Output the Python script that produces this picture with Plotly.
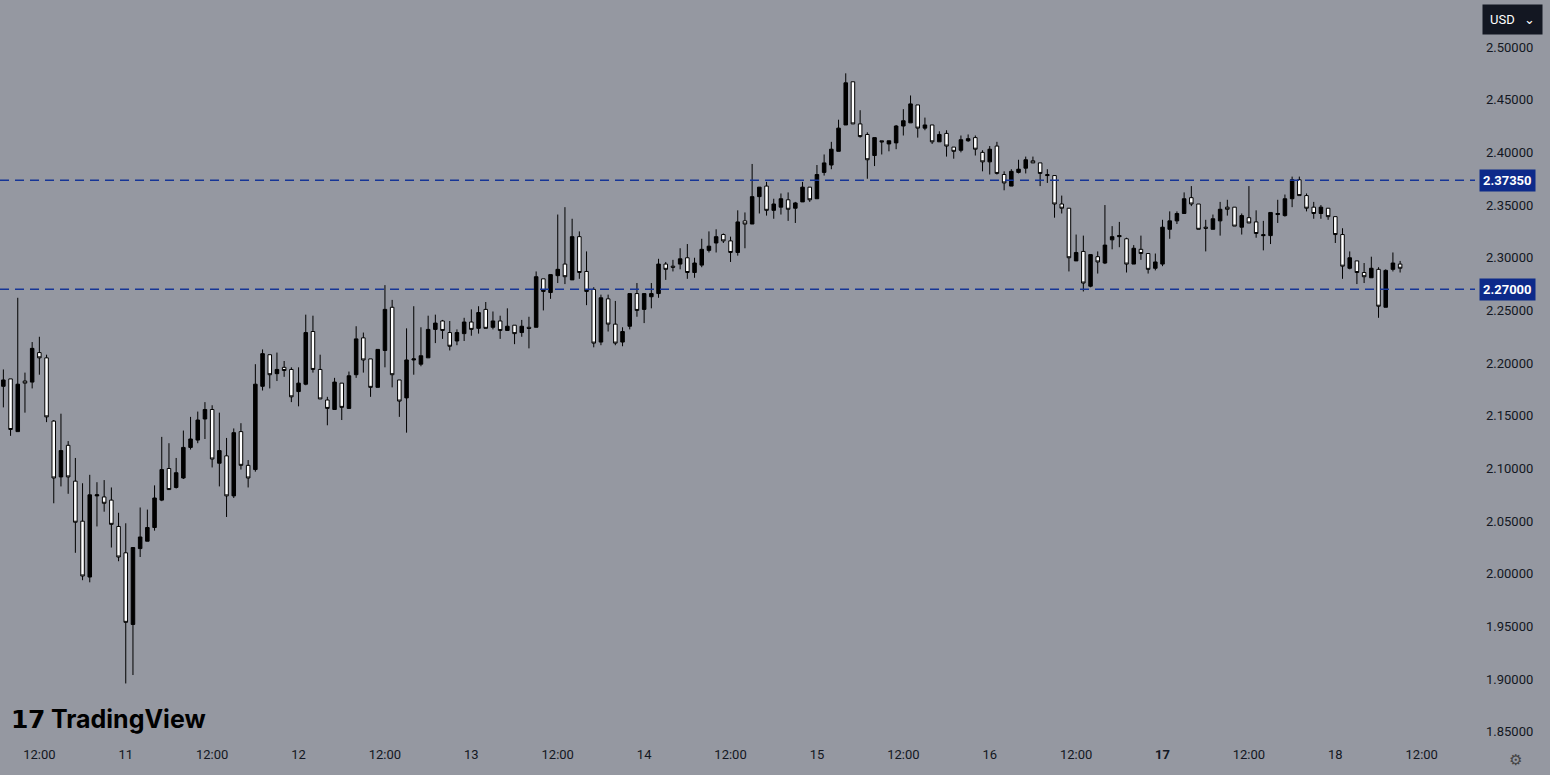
import pandas as pd
import plotly.graph_objects as go

# hourly candles, 10th 07:00 -> 18th 09:00
opens = [
    2.178, 2.185, 2.135, 2.183, 2.182, 2.210, 2.205, 2.145, 2.092, 2.122,
    2.088, 2.050, 1.997, 2.074, 2.073, 2.070, 2.045, 2.020, 1.952, 2.024,
    2.031, 2.044, 2.070, 2.100, 2.082, 2.091, 2.120, 2.127, 2.147, 2.156,
    2.105, 2.112, 2.074, 2.135, 2.103, 2.099, 2.178, 2.208, 2.190, 2.196,
    2.194, 2.173, 2.180, 2.230, 2.194, 2.165, 2.156, 2.181, 2.157, 2.189,
    2.224, 2.204, 2.177, 2.212, 2.253, 2.184, 2.167, 2.203, 2.199, 2.205,
    2.232, 2.240, 2.229, 2.221, 2.228, 2.239, 2.233, 2.251, 2.234, 2.240,
    2.231, 2.236, 2.229, 2.234, 2.234, 2.280, 2.267, 2.283, 2.294, 2.279,
    2.320, 2.287, 2.270, 2.220, 2.261, 2.237, 2.220, 2.235, 2.266, 2.251,
    2.263, 2.266, 2.294, 2.292, 2.294, 2.300, 2.286, 2.293, 2.307, 2.314,
    2.322, 2.316, 2.305, 2.335, 2.332, 2.358, 2.368, 2.345, 2.348, 2.355,
    2.347, 2.353, 2.367, 2.356, 2.381, 2.388, 2.401, 2.426, 2.467, 2.427,
    2.417, 2.397, 2.411, 2.408, 2.409, 2.425, 2.428, 2.445, 2.423, 2.426,
    2.410, 2.418, 2.405, 2.402, 2.411, 2.414, 2.400, 2.391, 2.406, 2.379,
    2.368, 2.381, 2.385, 2.392, 2.390, 2.379, 2.378, 2.351, 2.347, 2.297,
    2.306, 2.273, 2.301, 2.295, 2.317, 2.320, 2.318, 2.294, 2.308, 2.304,
    2.290, 2.294, 2.327, 2.335, 2.342, 2.357, 2.351, 2.329, 2.327, 2.335,
    2.348, 2.348, 2.329, 2.338, 2.334, 2.322, 2.321, 2.341, 2.340, 2.356,
    2.374, 2.359, 2.348, 2.342, 2.347, 2.339, 2.322, 2.290, 2.297, 2.286,
    2.281, 2.289, 2.253, 2.289, 2.294,
]
highs = [
    2.194, 2.185, 2.262, 2.191, 2.220, 2.225, 2.208, 2.146, 2.152, 2.126,
    2.110, 2.086, 2.094, 2.087, 2.089, 2.082, 2.058, 2.048, 2.025, 2.063,
    2.061, 2.084, 2.130, 2.124, 2.110, 2.136, 2.149, 2.154, 2.163, 2.160,
    2.153, 2.129, 2.138, 2.143, 2.108, 2.199, 2.213, 2.208, 2.210, 2.202,
    2.196, 2.196, 2.246, 2.245, 2.208, 2.168, 2.186, 2.181, 2.192, 2.235,
    2.229, 2.204, 2.213, 2.274, 2.260, 2.184, 2.233, 2.254, 2.234, 2.245,
    2.246, 2.241, 2.240, 2.232, 2.243, 2.251, 2.254, 2.258, 2.249, 2.245,
    2.252, 2.236, 2.241, 2.244, 2.287, 2.280, 2.284, 2.341, 2.348, 2.337,
    2.325, 2.306, 2.272, 2.265, 2.265, 2.259, 2.234, 2.266, 2.276, 2.266,
    2.276, 2.299, 2.296, 2.298, 2.309, 2.313, 2.300, 2.318, 2.325, 2.327,
    2.323, 2.320, 2.345, 2.343, 2.389, 2.367, 2.372, 2.356, 2.361, 2.362,
    2.353, 2.372, 2.367, 2.388, 2.398, 2.410, 2.431, 2.475, 2.467, 2.440,
    2.419, 2.414, 2.411, 2.411, 2.426, 2.441, 2.454, 2.445, 2.433, 2.426,
    2.420, 2.421, 2.405, 2.416, 2.417, 2.416, 2.402, 2.406, 2.410, 2.382,
    2.384, 2.393, 2.396, 2.396, 2.390, 2.384, 2.378, 2.359, 2.347, 2.322,
    2.321, 2.303, 2.306, 2.350, 2.330, 2.334, 2.319, 2.312, 2.321, 2.304,
    2.304, 2.336, 2.344, 2.344, 2.362, 2.368, 2.351, 2.336, 2.341, 2.353,
    2.355, 2.348, 2.342, 2.368, 2.345, 2.335, 2.343, 2.355, 2.360, 2.377,
    2.377, 2.361, 2.353, 2.350, 2.347, 2.339, 2.328, 2.306, 2.297, 2.295,
    2.301, 2.291, 2.289, 2.305, 2.297,
]
lows = [
    2.158, 2.131, 2.135, 2.153, 2.176, 2.189, 2.144, 2.067, 2.083, 2.076,
    2.020, 1.994, 1.992, 2.045, 2.059, 2.025, 2.012, 1.896, 1.904, 2.016,
    2.031, 2.041, 2.069, 2.080, 2.081, 2.090, 2.118, 2.124, 2.128, 2.101,
    2.083, 2.054, 2.072, 2.099, 2.082, 2.097, 2.174, 2.176, 2.183, 2.187,
    2.163, 2.159, 2.179, 2.191, 2.166, 2.141, 2.156, 2.146, 2.157, 2.186,
    2.191, 2.168, 2.177, 2.196, 2.177, 2.149, 2.134, 2.189, 2.197, 2.205,
    2.219, 2.223, 2.212, 2.217, 2.221, 2.226, 2.228, 2.233, 2.232, 2.223,
    2.231, 2.218, 2.225, 2.214, 2.234, 2.250, 2.261, 2.276, 2.275, 2.279,
    2.280, 2.255, 2.215, 2.217, 2.230, 2.217, 2.216, 2.232, 2.244, 2.238,
    2.252, 2.262, 2.279, 2.287, 2.289, 2.280, 2.281, 2.291, 2.305, 2.305,
    2.314, 2.296, 2.302, 2.309, 2.332, 2.342, 2.340, 2.337, 2.341, 2.335,
    2.333, 2.353, 2.353, 2.356, 2.378, 2.384, 2.401, 2.426, 2.427, 2.414,
    2.375, 2.387, 2.398, 2.401, 2.403, 2.416, 2.428, 2.414, 2.421, 2.408,
    2.410, 2.396, 2.394, 2.400, 2.410, 2.397, 2.382, 2.379, 2.379, 2.364,
    2.368, 2.380, 2.380, 2.390, 2.368, 2.371, 2.338, 2.342, 2.287, 2.297,
    2.268, 2.272, 2.285, 2.294, 2.308, 2.310, 2.286, 2.294, 2.298, 2.285,
    2.288, 2.292, 2.318, 2.332, 2.342, 2.349, 2.327, 2.306, 2.327, 2.321,
    2.340, 2.330, 2.322, 2.333, 2.319, 2.307, 2.313, 2.333, 2.339, 2.348,
    2.359, 2.344, 2.337, 2.337, 2.336, 2.314, 2.280, 2.289, 2.275, 2.276,
    2.281, 2.243, 2.253, 2.287, 2.286,
]
closes = [
    2.184, 2.137, 2.180, 2.181, 2.214, 2.205, 2.149, 2.091, 2.117, 2.092,
    2.049, 1.998, 2.075, 2.075, 2.067, 2.047, 2.016, 1.954, 2.025, 2.035,
    2.044, 2.072, 2.099, 2.080, 2.096, 2.120, 2.128, 2.146, 2.156, 2.109,
    2.117, 2.074, 2.134, 2.103, 2.091, 2.180, 2.209, 2.189, 2.194, 2.193,
    2.168, 2.181, 2.229, 2.194, 2.166, 2.157, 2.182, 2.158, 2.188, 2.223,
    2.203, 2.177, 2.213, 2.251, 2.189, 2.164, 2.203, 2.204, 2.207, 2.232,
    2.238, 2.231, 2.216, 2.229, 2.239, 2.232, 2.248, 2.233, 2.240, 2.231,
    2.235, 2.228, 2.235, 2.233, 2.282, 2.268, 2.284, 2.289, 2.282, 2.320,
    2.286, 2.268, 2.219, 2.262, 2.237, 2.219, 2.230, 2.266, 2.250, 2.266,
    2.266, 2.294, 2.289, 2.291, 2.299, 2.286, 2.295, 2.308, 2.311, 2.320,
    2.316, 2.305, 2.334, 2.332, 2.358, 2.367, 2.345, 2.351, 2.356, 2.346,
    2.352, 2.367, 2.355, 2.379, 2.390, 2.403, 2.423, 2.466, 2.427, 2.415,
    2.393, 2.414, 2.410, 2.411, 2.425, 2.430, 2.446, 2.423, 2.426, 2.410,
    2.417, 2.406, 2.401, 2.412, 2.413, 2.403, 2.391, 2.403, 2.380, 2.371,
    2.382, 2.384, 2.393, 2.390, 2.380, 2.378, 2.351, 2.347, 2.300, 2.305,
    2.276, 2.303, 2.296, 2.312, 2.320, 2.321, 2.294, 2.309, 2.304, 2.289,
    2.296, 2.329, 2.335, 2.342, 2.356, 2.351, 2.327, 2.328, 2.337, 2.346,
    2.346, 2.330, 2.340, 2.333, 2.323, 2.321, 2.343, 2.342, 2.356, 2.374,
    2.359, 2.347, 2.342, 2.348, 2.339, 2.322, 2.292, 2.300, 2.286, 2.282,
    2.290, 2.254, 2.288, 2.295, 2.290,
]

levels = [2.2700, 2.3735]
level_labels = ["2.27000", "2.37350"]
tick_text = ["12:00", "11", "12:00", "12", "12:00", "13", "12:00", "14", "12:00",
             "15", "12:00", "16", "12:00", "<b>17</b>", "12:00", "18", "12:00"]

times = pd.date_range("2025-03-10 07:00", periods=len(closes), freq="h")
tick_vals = pd.date_range("2025-03-10 12:00", periods=len(tick_text), freq="12h")

bg = "#9598a1"
blue = "#0d2a8a"

fig = go.Figure()
fig.add_trace(go.Candlestick(
    x=times, open=opens, high=highs, low=lows, close=closes,
    increasing=dict(fillcolor="black", line=dict(color="black", width=1)),
    decreasing=dict(fillcolor="white", line=dict(color="black", width=1)),
    whiskerwidth=0, showlegend=False, hoverinfo="skip",
))

for lv, lab in zip(levels, level_labels):
    fig.add_hline(y=lv, line=dict(color="#163596", width=1.5, dash="9px,6px"))
    fig.add_annotation(x=1, xref="paper", xanchor="left", y=lv, yref="y",
                       text=f"<b>{lab}</b>", showarrow=False, bgcolor=blue,
                       font=dict(color="white", size=13, family="Roboto"),
                       borderpad=3, xshift=4)

fig.add_annotation(x=1.0, xref="paper", y=1.0, yref="paper", xanchor="left", yanchor="top",
                   text="USD   ⌄", showarrow=False, bgcolor="#131722",
                   font=dict(color="white", size=13, family="Roboto"),
                   borderpad=7, xshift=7, yshift=-4)
fig.add_annotation(x=0.006, xref="paper", y=0.012, yref="paper", xanchor="left", yanchor="bottom",
                   text="<b>𝟭𝟳 TradingView</b>", showarrow=False,
                   font=dict(color="black", size=25, family="Inter"))
fig.add_annotation(x=1.0, xref="paper", y=-0.02, yref="paper", xanchor="left", yanchor="middle",
                   text="⚙", showarrow=False, xshift=32,
                   font=dict(color="#444", size=15))

fig.update_layout(
    width=1550, height=775,
    margin=dict(l=0, r=75, t=0, b=30),
    paper_bgcolor=bg, plot_bgcolor=bg,
    font=dict(family="Roboto", size=13, color="#131722"),
    xaxis=dict(
        rangeslider=dict(visible=False),
        range=[pd.Timestamp("2025-03-10 06:32"), pd.Timestamp("2025-03-18 19:24")],
        tickvals=tick_vals, ticktext=tick_text, showgrid=False, zeroline=False,
        ticks="", showline=False,
    ),
    yaxis=dict(
        side="right", range=[1.8376, 2.5446], dtick=0.05, tick0=1.85,
        tickformat=".5f", showgrid=False, zeroline=False, ticks="",
        ticklabelstandoff=10,
    ),
)

fig.write_html("out.html", config={"displayModeBar": False},
               post_script="document.body.style.margin='0';document.body.style.overflow='hidden';")
